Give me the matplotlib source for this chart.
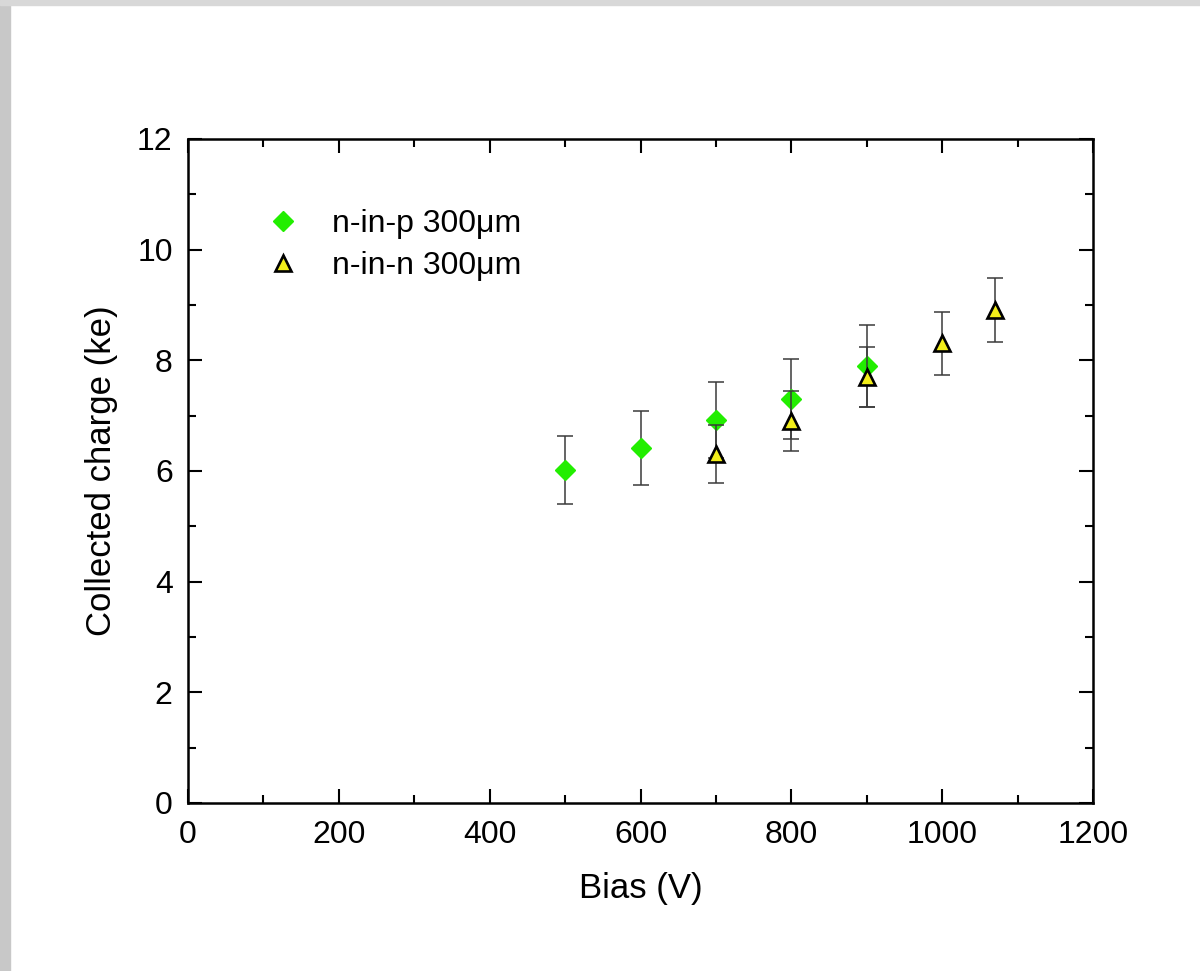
import matplotlib
matplotlib.use("Agg")
import matplotlib.pyplot as plt
from matplotlib.patches import Rectangle

plt.rcParams["font.family"] = ["Liberation Sans", "DejaVu Sans"]

# n-in-p 300um
bias_p = [500, 600, 700, 800, 900]
charge_p = [6.02, 6.41, 6.92, 7.30, 7.90]
err_p = [0.61, 0.67, 0.68, 0.72, 0.74]

# n-in-n 300um
bias_n = [700, 800, 900, 1000, 1070]
charge_n = [6.31, 6.91, 7.70, 8.31, 8.91]
err_n = [0.52, 0.54, 0.54, 0.57, 0.58]

fig = plt.figure(figsize=(12, 9.71), dpi=100)
# slide border
fig.patches.append(Rectangle((0, 0), 10 / 1200, 1, transform=fig.transFigure,
                             color="#c8c8c8", zorder=0))
fig.patches.append(Rectangle((0, 1 - 5 / 971), 1, 5 / 971, transform=fig.transFigure,
                             color="#d8d8d8", zorder=0))

ax = fig.add_axes([188 / 1200, 1 - 803 / 971, (1093 - 188) / 1200, (803 - 139) / 971])

eb_kw = dict(fmt="none", ecolor="#3a3a3a", elinewidth=1.1, capsize=5.5, capthick=1.1)
ax.errorbar(bias_p, charge_p, yerr=err_p, zorder=2, **eb_kw)
ax.plot(bias_p, charge_p, ls="none", marker="D", ms=10.5, color="#22ee00",
        mec="#22ee00", label="n-in-p 300μm", zorder=3)
ax.errorbar(bias_n, charge_n, yerr=err_n, zorder=4, **eb_kw)
ax.plot(bias_n, charge_n, ls="none", marker="^", ms=11, color="#f2ee1a",
        mec="black", mew=1.9, label="n-in-n 300μm", zorder=5)

ax.set_xlim(0, 1200)
ax.set_ylim(0, 12)
ax.set_xticks(range(0, 1201, 200))
ax.set_xticks(range(0, 1201, 100), minor=True)
ax.set_yticks(range(0, 13, 2))
ax.set_yticks(range(0, 13, 1), minor=True)

for s in ax.spines.values():
    s.set_linewidth(1.8)
ax.tick_params(which="both", direction="in", top=True, right=True, width=1.5,
               labelsize=23)
ax.tick_params(axis="x", pad=12)
ax.tick_params(axis="y", pad=11)
ax.tick_params(which="major", length=10)
ax.tick_params(which="minor", length=6)

ax.set_xlabel("Bias (V)", fontsize=25, labelpad=16)
ax.set_ylabel("Collected charge (ke)", fontsize=25, labelpad=14)

ax.legend(loc="upper left", bbox_to_anchor=(0.047, 0.938), frameon=False,
          fontsize=23, handletextpad=0.78, labelspacing=0.37, handlelength=1.5)

fig.savefig("out.png", dpi=100)
